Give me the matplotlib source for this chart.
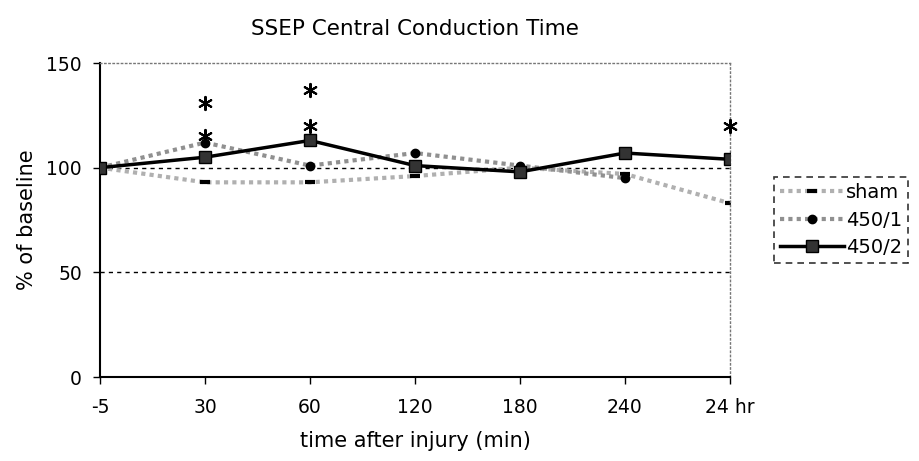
import matplotlib.pyplot as plt
import numpy as np

# chart data
times = ["-5", "30", "60", "120", "180", "240", "24 hr"]
sham = [100, 93, 93, 96, 100, 97, 83]
g450_1 = [100, 112, 101, 107, 101, 95, np.nan]
g450_2 = [100, 105, 113, 101, 98, 107, 104]

# significance asterisks (time index, value)
star_idx = [1, 1, 2, 2, 6]
star_val = [131, 115, 137, 120, 120]

x = np.arange(len(times))

fig = plt.figure(figsize=(9.19, 4.61), dpi=100)
ax = fig.add_axes([0.1088, 0.1822, 0.6855, 0.6811])

# reference lines
ax.axhline(100, color="black", linestyle=(0, (3, 3)), linewidth=1, zorder=1)
ax.axhline(50, color="black", linestyle=(0, (3, 3)), linewidth=1, zorder=1)

ax.plot(x, sham, color="#b0b0b0", linestyle=(0, (1, 1)), linewidth=3,
        marker="_", markersize=7, markeredgewidth=3, markeredgecolor="black",
        label="sham", zorder=2)
ax.plot(x, g450_1, color="#909090", linestyle=(0, (1, 1)), linewidth=3,
        marker="o", markersize=6, markerfacecolor="black", markeredgecolor="black",
        label="450/1", zorder=3)
ax.plot(x, g450_2, color="black", linewidth=2.5,
        marker="s", markersize=9, markerfacecolor="#333333", markeredgecolor="black",
        label="450/2", zorder=4)

ax.scatter(x[star_idx], star_val, marker=(6, 2, 0), s=90, color="black",
           linewidths=1.5, zorder=5, clip_on=False)

ax.set_xlim(0, len(times) - 1)
ax.set_ylim(0, 150)
ax.set_xticks(x)
ax.set_xticklabels(times)
ax.set_yticks([0, 50, 100, 150])
ax.tick_params(labelsize=13.5, length=5, width=1, direction="out", pad=10)
ax.tick_params(axis="y", pad=8)

for side in ["top", "right"]:
    ax.spines[side].set_linestyle((0, (1, 2)))
    ax.spines[side].set_color("#777777")
    ax.spines[side].set_linewidth(1)
ax.spines["left"].set_linewidth(1.5)
ax.spines["bottom"].set_linewidth(1.5)

ax.set_title("SSEP Central Conduction Time", fontsize=15.5, pad=20)
ax.set_xlabel("time after injury (min)", fontsize=15, labelpad=10)
ax.set_ylabel("% of baseline", fontsize=15, labelpad=7)

leg = ax.legend(loc="center left", bbox_to_anchor=(1.07, 0.5), fontsize=14,
                frameon=True, fancybox=False, handlelength=3.3, handletextpad=0.1,
                borderpad=0.3, labelspacing=0.45, borderaxespad=0)
frame = leg.get_frame()
frame.set_edgecolor("black")
frame.set_linestyle((0, (4, 3)))
frame.set_linewidth(1.2)

plt.savefig("out.png", dpi=100)
plt.close()
